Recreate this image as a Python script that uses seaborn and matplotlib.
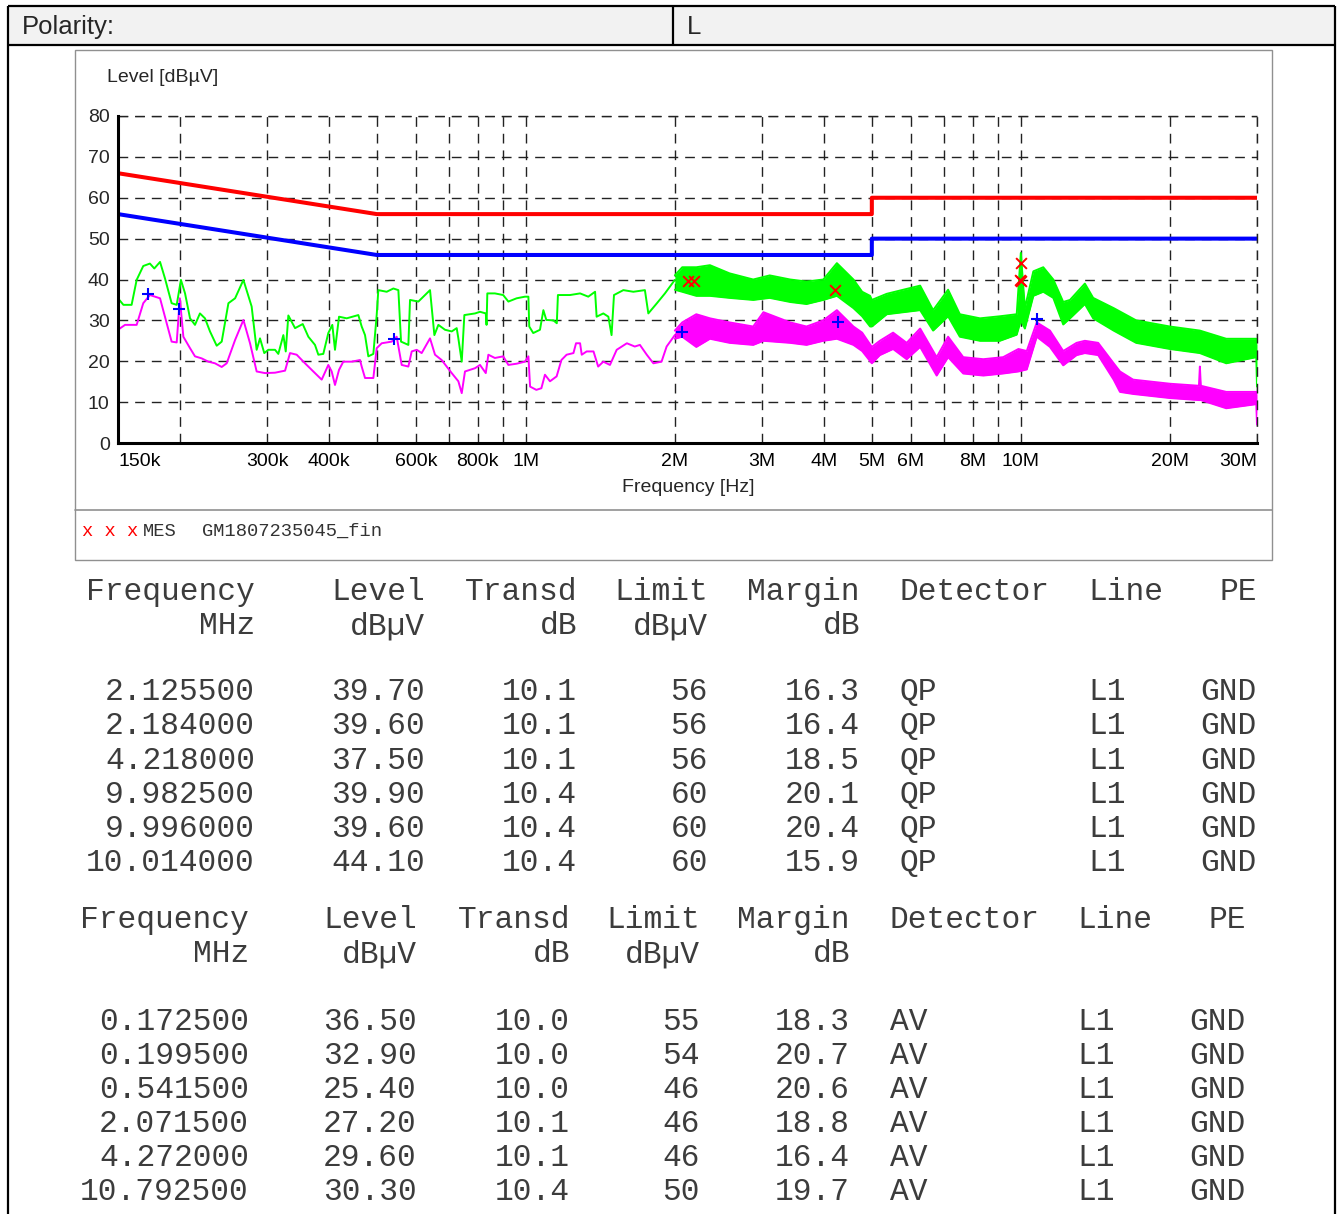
import numpy as np
import matplotlib
matplotlib.use("Agg")
import matplotlib.pyplot as plt
from matplotlib.patches import Rectangle
import seaborn as sns

# ---- scan traces (frequency in MHz, level in dBuV) ----
# peak scan (green), smooth part below 2 MHz
peak_f = [0.150, 0.1538, 0.1598, 0.1636, 0.1687, 0.1740, 0.1776, 0.1824, 0.1866, 0.1925,
          0.1971, 0.2010, 0.2049, 0.2097, 0.2146, 0.2196, 0.2248, 0.2301, 0.2374, 0.2430,
          0.2507, 0.2586, 0.2688, 0.2793, 0.2859, 0.2904, 0.2962, 0.3018, 0.3114, 0.3162,
          0.3237, 0.3273, 0.3313, 0.3418, 0.3542, 0.3636, 0.3750, 0.3809, 0.3898, 0.3990,
          0.4065, 0.4116, 0.4194, 0.4346, 0.4588, 0.4660, 0.4733, 0.4806, 0.4920, 0.4997,
          0.5035, 0.5235, 0.5400, 0.5527, 0.5596, 0.5790, 0.5835, 0.6066, 0.6209, 0.6404,
          0.6535, 0.6657, 0.6867, 0.7084, 0.7250, 0.7306, 0.7422, 0.7513, 0.7896, 0.808,
          0.830, 0.833, 0.836, 0.866, 0.900, 0.922, 0.958, 0.996, 1.012, 1.016,
          1.035, 1.068, 1.085, 1.100, 1.137, 1.155, 1.161, 1.228, 1.287, 1.337,
          1.380, 1.390, 1.434, 1.468, 1.490, 1.507, 1.574, 1.649, 1.740, 1.768,
          1.840, 1.910, 2.000]
peak_db = [35.4, 33.8, 33.8, 39.9, 43.3, 43.9, 42.7, 44.3, 40.3, 34.2,
           33.8, 39.9, 36.6, 30.5, 28.9, 31.7, 30.5, 27.3, 23.8, 24.8,
           34.2, 35.4, 39.9, 33.4, 22.8, 25.6, 22.0, 22.8, 22.8, 21.8,
           26.4, 22.4, 31.2, 28.1, 29.1, 26.0, 24.0, 21.6, 21.8, 26.9,
           28.9, 22.8, 30.9, 30.5, 31.3, 28.5, 26.4, 21.2, 21.8, 31.3,
           37.4, 37.0, 37.8, 37.4, 24.8, 24.0, 35.0, 34.6, 35.8, 37.4,
           26.4, 28.9, 27.7, 27.3, 28.1, 25.6, 19.9, 31.3, 31.7, 32.1,
           31.7, 28.9, 36.6, 36.6, 36.2, 34.6, 35.4, 35.8, 35.8, 28.5,
           26.9, 27.7, 32.5, 30.1, 30.0, 29.3, 36.2, 36.2, 36.6, 35.8,
           37.0, 30.9, 31.7, 30.9, 26.4, 36.2, 37.4, 37.0, 37.4, 31.7,
           34.2, 36.6, 39.9]
# peak scan, noisy part: lower / upper edge of the band
peak_band_f = [2.00, 2.07, 2.21, 2.355, 2.58, 2.88, 3.11, 3.42, 3.69, 3.99,
               4.25, 4.59, 4.78, 4.96, 5.00, 5.36, 5.79, 6.26, 6.65, 7.13,
               7.53, 8.27, 9.07, 9.81, 10.0, 10.19, 10.6, 11.1, 11.63, 12.18,
               12.57, 13.47, 14.0, 15.4, 17.1, 20.0, 23.0, 26.0, 29.9, 30.0]
peak_band_lo = [37.5, 37.0, 36.0, 36.0, 35.5, 35.0, 35.5, 34.5, 34.0, 35.0,
                36.0, 33.0, 31.0, 28.5, 28.5, 31.5, 32.0, 32.5, 27.5, 31.0,
                26.0, 25.0, 25.0, 26.5, 30.0, 28.0, 36.0, 37.0, 35.5, 29.0,
                30.5, 34.0, 30.5, 27.5, 24.5, 23.0, 22.0, 19.5, 21.0, 13.8]
peak_band_hi = [41.0, 43.0, 43.0, 43.5, 41.5, 40.0, 41.0, 40.0, 39.5, 40.0,
                44.0, 40.0, 37.0, 36.0, 35.0, 36.5, 37.5, 38.5, 32.5, 37.5,
                31.5, 30.5, 31.0, 31.5, 46.5, 33.0, 42.0, 43.0, 40.0, 34.5,
                35.0, 39.0, 35.5, 33.0, 30.0, 28.5, 27.5, 25.5, 25.5, 24.0]

# average scan (magenta), smooth part
avg_f = [0.150, 0.155, 0.1636, 0.1687, 0.1740, 0.1824, 0.1866, 0.1925, 0.1971, 0.2000,
         0.2033, 0.2097, 0.2146, 0.2214, 0.2283, 0.2355, 0.2430, 0.2487, 0.2586, 0.2688,
         0.2772, 0.2859, 0.2973, 0.3114, 0.3263, 0.3339, 0.3444, 0.3580, 0.3721, 0.3869,
         0.3990, 0.4053, 0.4116, 0.4194, 0.4278, 0.4449, 0.4624, 0.4660, 0.4733, 0.4920,
         0.4997, 0.5115, 0.5358, 0.5484, 0.5613, 0.5790, 0.5881, 0.6020, 0.6160, 0.6404,
         0.6554, 0.6760, 0.7084, 0.7306, 0.7422, 0.7535, 0.7896, 0.808, 0.830, 0.840,
         0.866, 0.900, 0.922, 0.958, 0.996, 1.012, 1.020, 1.050, 1.075, 1.093,
         1.119, 1.154, 1.180, 1.209, 1.248, 1.263, 1.287, 1.297, 1.327, 1.370,
         1.400, 1.434, 1.479, 1.526, 1.600, 1.660, 1.700, 1.755, 1.810, 1.880,
         1.925, 2.000]
avg_db = [27.7, 28.9, 28.9, 34.2, 36.2, 35.4, 30.9, 24.8, 24.6, 35.4,
          26.0, 23.2, 21.2, 20.7, 19.9, 19.5, 18.6, 19.5, 25.2, 30.1,
          24.4, 17.5, 17.1, 17.2, 17.7, 22.0, 21.6, 19.5, 17.5, 15.5,
          19.1, 17.5, 14.2, 17.9, 19.9, 19.9, 20.3, 18.7, 15.9, 15.9,
          23.2, 24.4, 24.8, 26.0, 19.1, 18.7, 22.4, 22.8, 22.0, 25.6,
          21.6, 20.3, 17.1, 15.1, 12.2, 17.5, 18.3, 19.1, 17.1, 21.6,
          20.8, 21.2, 19.1, 19.4, 19.9, 21.2, 13.8, 13.0, 13.4, 16.7,
          15.1, 16.3, 20.3, 21.6, 22.0, 24.4, 24.4, 21.6, 22.4, 22.4,
          18.7, 19.9, 19.1, 22.8, 24.4, 23.6, 24.0, 21.6, 19.5, 19.9,
          23.6, 26.4]
avg_band_f = [2.00, 2.07, 2.21, 2.355, 2.58, 2.88, 3.02, 3.42, 3.69, 3.99,
              4.25, 4.59, 4.78, 5.00, 5.19, 5.52, 5.88, 6.26, 6.76, 7.13,
              7.65, 8.40, 9.21, 9.89, 10.28, 10.77, 11.45, 12.18, 12.96, 13.47,
              14.33, 15.4, 15.86, 16.86, 20.0, 22.9, 23.0, 23.1, 26.0, 29.9, 30.0]
avg_band_lo = [25.5, 26.0, 23.5, 25.5, 24.5, 24.0, 25.0, 24.5, 24.0, 25.0,
               25.5, 24.0, 22.5, 19.5, 21.5, 23.0, 20.5, 23.5, 16.5, 21.0,
               17.0, 16.5, 17.0, 17.5, 18.0, 26.0, 23.5, 19.0, 21.5, 22.0,
               21.5, 15.5, 12.5, 12.0, 11.0, 10.5, 10.5, 10.5, 8.5, 9.5, 4.5]
avg_band_hi = [27.5, 29.5, 31.5, 30.5, 29.5, 28.5, 32.0, 29.5, 28.5, 30.0,
               32.5, 28.5, 27.0, 23.5, 25.0, 27.0, 24.5, 28.0, 21.0, 26.0,
               21.0, 20.5, 21.0, 23.0, 22.5, 29.5, 27.5, 22.5, 24.5, 25.0,
               24.5, 19.5, 17.5, 15.5, 14.5, 14.0, 18.7, 14.0, 12.5, 12.5, 12.0]

# limit lines
limit_f = [0.15, 0.5, 5.0, 5.0, 30.0]
qp_limit_line = [66, 56, 56, 60, 60]
av_limit_line = [56, 46, 46, 50, 50]

# final measurement results
qp_freq = [2.1255, 2.184, 4.218, 9.9825, 9.996, 10.014]
qp_level = [39.70, 39.60, 37.50, 39.90, 39.60, 44.10]
qp_transd = [10.1, 10.1, 10.1, 10.4, 10.4, 10.4]
qp_limit = [56, 56, 56, 60, 60, 60]
qp_margin = [16.3, 16.4, 18.5, 20.1, 20.4, 15.9]

av_freq = [0.1725, 0.1995, 0.5415, 2.0715, 4.272, 10.7925]
av_level = [36.50, 32.90, 25.40, 27.20, 29.60, 30.30]
av_transd = [10.0, 10.0, 10.0, 10.1, 10.1, 10.4]
av_limit = [55, 54, 46, 46, 46, 50]
av_margin = [18.3, 20.7, 20.6, 18.8, 16.4, 19.7]

tick_freqs = [0.15, 0.3, 0.4, 0.6, 0.8, 1, 2, 3, 4, 5, 6, 8, 10, 20, 30]
tick_labels = ["150k", "300k", "400k", "600k", "800k", "1M", "2M", "3M", "4M",
               "5M", "6M", "8M", "10M", "20M", "30M"]
grid_freqs = [0.2, 0.5, 0.7, 0.9, 7, 9]

GREEN = "#00ff00"
MAGENTA = "#ff00ff"
GRID = (0, (7, 5))

sns.set_style("white")
plt.rcParams["font.family"] = ["Liberation Sans", "DejaVu Sans"]

W, H = 1341, 1214
fig = plt.figure(figsize=(W / 100, H / 100), dpi=100)

# page overlay in pixel coordinates
bg = fig.add_axes([0, 0, 1, 1])
bg.set_xlim(0, W)
bg.set_ylim(H, 0)
bg.axis("off")

bg.add_patch(Rectangle((8, 6), 1327, 39, facecolor="#f2f2f2", edgecolor="none"))
for (x0, y0, x1, y1) in [(8, 6, 1335, 6), (8, 45, 1335, 45), (8, 6, 8, H),
                         (1335, 6, 1335, H), (673, 6, 673, 45)]:
    bg.plot([x0, x1], [y0, y1], color="black", lw=1.6, solid_capstyle="butt")
bg.text(22, 27, "Polarity:", fontsize=18.5, va="center", ha="left")
bg.text(687, 27, "L", fontsize=18.5, va="center", ha="left")

# chart frame + legend strip
bg.add_patch(Rectangle((75, 50), 1197, 510, facecolor="white", edgecolor="#909090", lw=1))
bg.plot([75, 1272], [510, 510], color="#909090", lw=1.2)
mono = ["Liberation Mono", "DejaVu Sans Mono"]
bg.text(82, 531, "x x x", family=mono, fontsize=13.5, color="red", va="center")
bg.text(143, 531, "MES", family=mono, fontsize=13.5, color="#333333", va="center")
bg.text(202, 531, "GM1807235045_fin", family=mono, fontsize=13.5, color="#333333", va="center")

bg.text(107, 77, "Level [dB\u00b5V]", fontsize=14, va="center", ha="left")
bg.text(688, 487, "Frequency [Hz]", fontsize=14, va="center", ha="center")

# ---- the chart itself ----
ax = fig.add_axes([118 / W, 1 - 443 / H, (1257 - 118) / W, (443 - 116) / H])
ax.set_xscale("log")
ax.set_xlim(0.15e6, 30e6)
ax.set_ylim(0, 80)

hz = lambda v: np.asarray(v) * 1e6

ax.fill_between(hz(peak_band_f), peak_band_lo, peak_band_hi, color=GREEN, lw=0)
for y in (peak_band_lo, peak_band_hi):
    sns.lineplot(x=hz(peak_band_f), y=y, color=GREEN, lw=1.4, ax=ax, estimator=None, sort=False)
sns.lineplot(x=hz(peak_f), y=peak_db, color=GREEN, lw=1.4, ax=ax, estimator=None, sort=False)

ax.fill_between(hz(avg_band_f), avg_band_lo, avg_band_hi, color=MAGENTA, lw=0)
for y in (avg_band_lo, avg_band_hi):
    sns.lineplot(x=hz(avg_band_f), y=y, color=MAGENTA, lw=1.4, ax=ax, estimator=None, sort=False)
sns.lineplot(x=hz(avg_f), y=avg_db, color=MAGENTA, lw=1.4, ax=ax, estimator=None, sort=False)

sns.lineplot(x=hz(limit_f), y=qp_limit_line, color="red", lw=2.9, ax=ax, estimator=None, sort=False)
sns.lineplot(x=hz(limit_f), y=av_limit_line, color="blue", lw=2.9, ax=ax, estimator=None, sort=False)

sns.scatterplot(x=hz(qp_freq), y=qp_level, marker="x", color="red", s=60, linewidth=1.4, ax=ax, zorder=5)
sns.scatterplot(x=hz(av_freq), y=av_level, marker="+", color="blue", s=75, linewidth=1.5, ax=ax, zorder=5)

ax.set_xticks(hz(tick_freqs))
ax.set_xticklabels(tick_labels, fontsize=14)
ax.set_xticks(hz(grid_freqs), minor=True)
ax.xaxis.set_minor_formatter(matplotlib.ticker.NullFormatter())
labs = ax.get_xticklabels()
labs[0].set_ha("left")
labs[-1].set_ha("right")
ax.set_yticks(range(0, 81, 10))
ax.set_yticklabels([str(v) for v in range(0, 81, 10)], fontsize=14)
ax.tick_params(axis="x", which="both", direction="in", length=4, width=1, pad=7.5, colors="black")
ax.tick_params(axis="y", length=0, pad=6)
ax.grid(True, which="both", color="#222222", lw=1, linestyle=GRID)
ax.set_axisbelow(True)
for s in ("top", "right"):
    ax.spines[s].set_visible(False)
for s in ("left", "bottom"):
    ax.spines[s].set_color("black")
    ax.spines[s].set_linewidth(2.2)
ax.set_xlabel("")
ax.set_ylabel("")
ax.patch.set_alpha(0)
# top and right dashed borders
ax.axhline(80, color="#222222", lw=1, linestyle=GRID, clip_on=False)
ax.axvline(30e6, color="#222222", lw=1, linestyle=GRID, clip_on=False)

# ---- result tables ----
TXT = "#3c3c3c"

def table(y_head, rows_y, cols, header1, header2, rows):
    for (x, ha), h1, h2 in zip(cols, header1, header2):
        bg.text(x, y_head, h1, family=mono, fontsize=22.5, ha=ha, va="center", color=TXT)
        bg.text(x, y_head + 34, h2, family=mono, fontsize=22.5, ha=ha, va="center", color=TXT)
    for y, row in zip(rows_y, rows):
        for (x, ha), cell in zip(cols, row):
            bg.text(x, y, cell, family=mono, fontsize=22.5, ha=ha, va="center", color=TXT)

head1 = ["Frequency", "Level", "Transd", "Limit", "Margin", "Detector", "Line", "PE"]
head2 = ["MHz", "dB\u00b5V", "dB", "dB\u00b5V", "dB", "", "", ""]

def fmt_rows(freq, level, transd, limit, margin, det):
    return [[f"{f:.6f}", f"{l:.2f}", f"{t:.1f}", f"{li:d}", f"{m:.1f}", det, "L1", "GND"]
            for f, l, t, li, m in zip(freq, level, transd, limit, margin)]

cols1 = [(255, "right"), (425, "right"), (577, "right"), (708, "right"),
         (860, "right"), (900, "left"), (1088, "left"), (1257, "right")]
cols2 = [(249, "right"), (417, "right"), (570, "right"), (700, "right"),
         (850, "right"), (890, "left"), (1077, "left"), (1246, "right")]

table(592, [692, 726, 761, 795, 829, 863], cols1, head1, head2,
      fmt_rows(qp_freq, qp_level, qp_transd, qp_limit, qp_margin, "QP"))
table(920, [1022, 1056, 1090, 1124, 1158, 1192], cols2, head1, head2,
      fmt_rows(av_freq, av_level, av_transd, av_limit, av_margin, "AV"))

fig.savefig("out.png", dpi=100)
